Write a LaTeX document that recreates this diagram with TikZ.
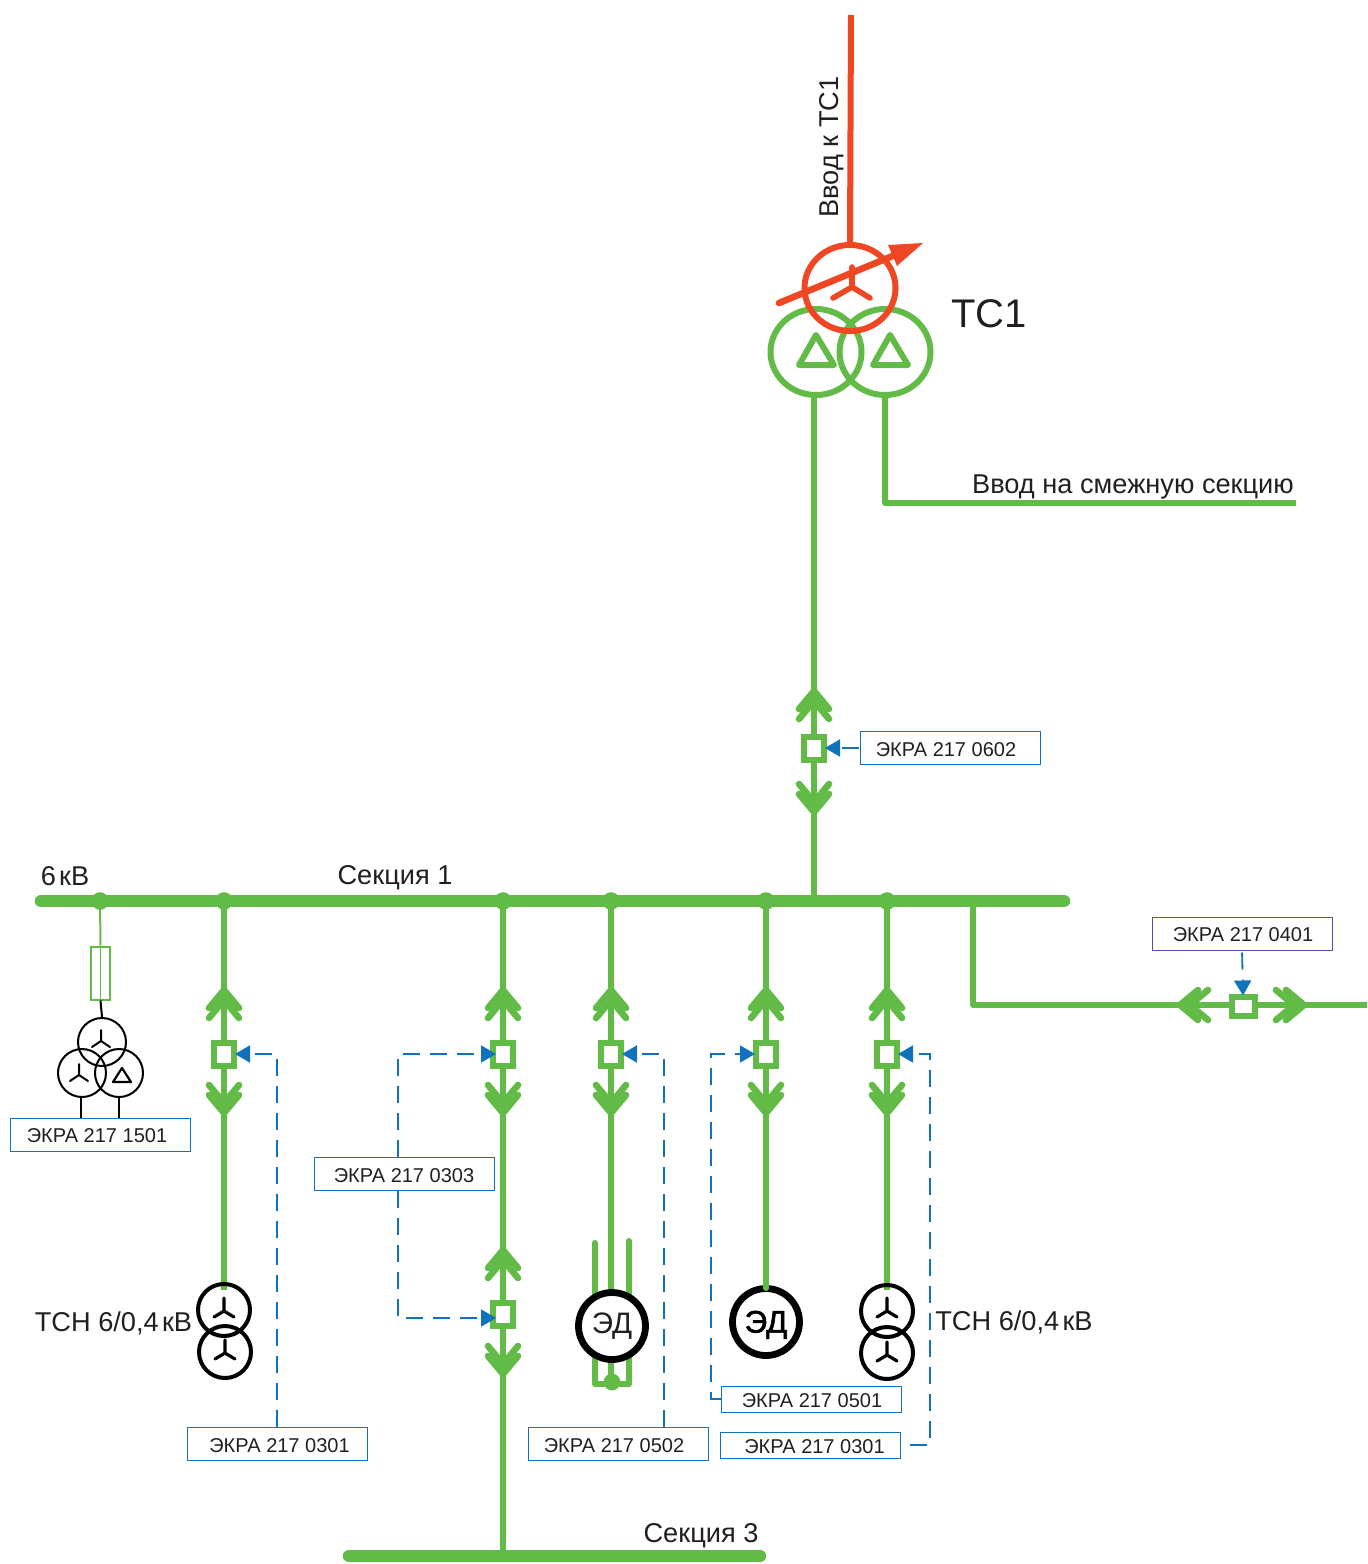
\documentclass[tikz,border=0pt]{standalone}
\usepackage{fontspec}
\setmainfont{Liberation Sans}
\newfontface\semibold[FakeBold=2]{Liberation Sans}
\usetikzlibrary{arrows.meta,shapes.geometric}
\definecolor{gr}{HTML}{62BB46}
\definecolor{rd}{HTML}{EF4623}
\definecolor{bl}{HTML}{0F72BA}
\definecolor{pu}{HTML}{5C4FA2}
\definecolor{tx}{HTML}{231F20}
\pgfdeclarelayer{bg}
\pgfsetlayers{bg,main}
\newcommand{\labt}[3]{\raisebox{0pt}[8.4pt][0pt]{\hspace*{#1}#3\hspace*{#2}}}
\tikzset{
  gline/.style={draw=gr,line width=3.1pt,line cap=round,line join=round},
  rline/.style={draw=rd,line width=3.3pt,line cap=round,line join=round},
  kline/.style={draw=black,line width=1pt},
  wind/.style={ellipse,line width=3pt,minimum width=45.5pt,minimum height=43pt,inner sep=0pt},
  kcirc/.style={circle,draw=black,line width=2pt,minimum size=26pt,inner sep=0pt},
  kcircs/.style={circle,draw=black,line width=1pt,minimum size=24pt,inner sep=0pt},
  mot/.style={circle,draw=black,fill=white,line width=3.4pt,minimum size=33.5pt,inner sep=0pt,text=tx},
  brk/.style={draw=gr,fill=white,line width=3pt,minimum width=10pt,minimum height=11.5pt,inner sep=0pt},
  brkh/.style={draw=gr,fill=white,line width=3pt,minimum width=11.5pt,minimum height=9.5pt,inner sep=0pt},
  lab/.style={draw=bl,fill=white,line width=0.5pt,minimum width=90pt,minimum height=16.5pt,inner sep=0pt,text=tx,font=\fontsize{10}{12}\selectfont},
  txt/.style={text=tx,inner sep=0pt,font=\fontsize{13.6}{15}\selectfont},
  sig/.style={draw=bl,line width=0.9pt,dash pattern=on 8.5pt off 5pt},
  sigA/.style={sig,-{Triangle[length=7.5pt,width=8.5pt,fill=bl]},shorten >=-1pt},
  chev/.pic={
    \draw[gline,line width=3.3pt] (-15,18) -- (0,0) -- (15,18);
    \draw[gline,line width=3.3pt] (-15,28) -- (0,10) -- (15,28);
  },
  ystar/.pic={
    \draw[draw=black,line width=1.6pt,line cap=round,line join=round] (0,-13) -- (0,0) (-10,6) -- (0,0) -- (10,6);
  },
  ystars/.pic={
    \draw[draw=black,line width=1pt,line cap=round,line join=round] (0,-11) -- (0,0) (-9,6) -- (0,0) -- (9,6);
  },
}
\begin{document}
\begin{tikzpicture}[x=0.5pt,y=-0.5pt]
\useasboundingbox (0,0) rectangle (1367,1564);

% breakers
\node[brk] (b0602) at (814,748) {};
\node[brk] (b0301a) at (224,1054) {};
\node[brk] (b0303a) at (503,1054) {};
\node[brk] (b0502) at (611,1054) {};
\node[brk] (b0501) at (766,1054) {};
\node[brk] (b0301b) at (887,1054) {};
\node[brk] (b0303b) at (503,1314) {};
\node[brkh] (b0401) at (1243,1006) {};

% bus coordinates
\coordinate (busL) at (41,901);
\coordinate (busR) at (1064,901);
\coordinate (j1) at (100,901);
\coordinate (j2) at (224,901);
\coordinate (j3) at (503,901);
\coordinate (j4) at (611,901);
\coordinate (j5) at (766,901);
\coordinate (j6) at (887,901);
\coordinate (j7) at (814,901);
\coordinate (j8) at (973,901);
\coordinate (s3L) at (349,1556);
\coordinate (s3R) at (760,1556);
\coordinate (s3j) at (503,1556);

% transformer TC1
\node[wind,draw=gr] (tl) at (816,352) {};
\node[wind,draw=gr] (tr) at (885,352) {};
\node[wind,draw=rd] (th) at (850,288) {};
\draw[gline,line width=3pt] (816,335) -- (799,365) -- (834,365) -- cycle;
\draw[gline,line width=3pt] (890,335) -- (873,365) -- (908,365) -- cycle;
\draw[rline,line width=2.8pt] (852,267) -- (852,287) (833,298) -- (852,287) -- (870,298);
\coordinate (tapS) at (779,303);
\coordinate (tapE) at (923,243);
\draw[rline] (tapS) -- (895,255);
\fill[rd] (tapE) -- (888,245) -- (897,266) -- cycle;
\coordinate (inTop) at (851,15);
\coordinate (adj) at (1296,503);
\coordinate (tlS) at (814,396);
\coordinate (trS) at (885,396);
\begin{pgfonlayer}{bg}
\draw[draw=rd,line width=3pt] (inTop) -- (th.north);
\draw[gline,line cap=butt] (tlS) -- (b0602) -- (j7);
\draw[gline,line cap=butt] (trS) -- (885,503) -- (adj);
\end{pgfonlayer}

% buses
\draw[gline,line width=6.3pt] (busL) -- (busR);
\draw[gline,line width=6.3pt] (s3L) -- (s3R);
\foreach \j in {j1,j2,j3,j4,j5,j6} \fill[gr] (\j) circle (4.4pt);

% feeders
\begin{pgfonlayer}{bg}
\draw[gline,line cap=butt] (j2) -- (b0301a) -- (224,1290);
\draw[gline,line cap=butt] (j3) -- (b0303a) -- (b0303b) -- (s3j);
\draw[gline,line cap=butt] (j4) -- (b0502) -- (611,1381);
\draw[gline,line cap=butt] (j5) -- (b0501);
\draw[gline,line cap=butt] (j6) -- (b0301b) -- (887,1290);
\draw[gline,line cap=butt] (j8) -- (973,1005) -- (1367,1005);
\draw[gline] (595,1243) -- (595,1384) -- (629,1384) -- (629,1241);
\end{pgfonlayer}

% chevrons
\pic at (814,691) {chev};
\pic[rotate=180] at (814,812) {chev};
\foreach \x in {224,503,611,766,887}{
  \pic at (\x,990) {chev};
  \pic[rotate=180] at (\x,1113) {chev};
}
\pic at (503,1250) {chev};
\pic[rotate=180] at (503,1374) {chev};
\pic[rotate=90] at (1180,1005) {chev};
\pic[rotate=-90] at (1304,1005) {chev};

% fuse branch with three-winding transformer
\node[draw=gr,line width=1pt,minimum width=9.5pt,minimum height=26.5pt,inner sep=0pt] (fuse) at (100.5,973) {};
\node[kcircs] (ka) at (102,1042) {};
\node[kcircs] (kb) at (82,1073) {};
\node[kcircs] (kc) at (119,1073) {};
\draw[draw=gr,line width=1pt] (j1) -- (fuse.north);
\draw[gr,line width=0.5pt] (fuse.north) -- (fuse.south);
\draw[kline] (fuse.south) -- (ka.north);
\pic at (101,1041) {ystars};
\pic at (79,1075) {ystars};
\draw[kline,line width=1.1pt,line join=round] (122,1068) -- (113,1082) -- (131,1082) -- cycle;

% TSN left
\node[kcirc] (tsa1) at (224,1310) {};
\node[kcirc] (tsa2) at (225,1352) {};
\pic at (224,1311) {ystar};
\pic at (225,1353) {ystar};
% TSN right
\node[kcirc] (tsb1) at (887,1311) {};
\node[kcirc] (tsb2) at (887,1353) {};
\pic at (887,1311) {ystar};
\pic at (887,1355) {ystar};

% motors
\node[mot,font=\fontsize{14.8}{16}\selectfont] (m1) at (612,1326) {ЭД};
\fill[gr] (612,1382) circle (4.2pt);
\node[mot,text=black,font=\fontsize{15.6}{17}\selectfont\semibold] (m2) at (766,1322) {\raisebox{0pt}[10.6pt][0pt]{ЭД}};
\draw[gline] (b0501.south) -- (766,1288);

% labels
\node[lab] (l0602) at (950,748) {\labt{0pt}{4pt}{ЭКРА 217 0602}};
\node[lab] (l1501) at (100,1134.5) {\labt{0pt}{3pt}{ЭКРА 217 1501}};
\node[lab] (l0303) at (404,1174) {\labt{0pt}{0pt}{ЭКРА 217 0303}};
\node[lab] (l0301a) at (277.5,1444) {\labt{2pt}{0pt}{ЭКРА 217 0301}};
\node[lab] (l0502) at (618,1444) {\labt{0pt}{4pt}{ЭКРА 217 0502}};
\node[lab,minimum height=13pt] (l0501) at (811,1399) {\labt{1pt}{0pt}{ЭКРА 217 0501}};
\node[lab,minimum height=13pt] (l0301b) at (810.5,1445) {\labt{4pt}{0pt}{ЭКРА 217 0301}};
\node[lab,draw=pu] (l0401) at (1242,933.5) {\labt{1pt}{0pt}{ЭКРА 217 0401}};

\draw[kline] (kb.south) ++(-1,0) -- (81,1118);
\draw[kline] (kc.south) -- (119,1118);

% signal lines
\draw[sigA,shorten <=0.5pt] (l0602.west) -- (b0602.east);
\draw[sigA,shorten <=1pt] (l0401.south) -- (b0401.north);
\draw[sigA] (l0303.north -| 398,1157) |- ([xshift=2pt]b0303a.west);
\draw[sigA] (l0303.south -| 398,1191) |- ([xshift=2pt,yshift=-2pt]b0303b.west);
\draw[sigA] (l0301a.north -| 277,1427) |- (b0301a.east);
\draw[sigA] (664,1427) |- (b0502.east);
\draw[sigA] (l0501.west) -| (711,1225) |- (b0501.west);
\draw[sigA,shorten <=4.5pt] (l0301b.east) -| (930,1250) |- (b0301b.east);

% texts
\node[txt,rotate=90] (tInput) at (832,147) {Ввод к ТС1};
\node[txt,font=\fontsize{20}{24}\selectfont] (tTC) at (989,314) {ТС1};
\node[txt] (tAdj) at (1133,487) {Ввод на смежную секцию};
\node[txt] (tkV) at (65,876) {6\hspace{0.12em}кВ};
\node[txt] (tS1) at (395,878) {Секция 1};
\node[txt] (tS3) at (701,1536) {Секция 3};
\node[txt] (tTa) at (113.5,1323) {ТСН 6/0,4\hspace{0.12em}кВ};
\node[txt] (tTb) at (1014,1322) {ТСН 6/0,4\hspace{0.12em}кВ};
\end{tikzpicture}
\end{document}
